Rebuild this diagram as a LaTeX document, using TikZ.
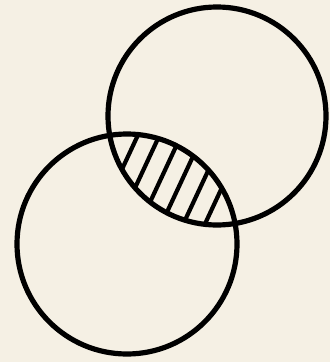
\documentclass[tikz,border=0pt]{standalone}
\usepackage{tikz}

\definecolor{paper}{RGB}{245,240,228}

\begin{document}
\begin{tikzpicture}[
    x=1pt, y=-1pt,
    ring/.style={draw=black, line width=5.2pt},
    hatch/.style={draw=black, line width=4.2pt}
]
\fill[paper] (0,0) rectangle (330,362);
\useasboundingbox (0,0) rectangle (330,362);
\coordinate (upper) at (217,116);
\coordinate (lower) at (127,244);
% hatched overlap
\begin{scope}
    \clip (upper) circle[radius=109pt];
    \clip (lower) circle[radius=110pt];
    \foreach \c in {201,222.7,244.4,266,287.8,309.5}
        \draw[hatch] (\c-46.7,100) -- (\c-112,240);
\end{scope}
\draw[ring] (upper) circle[radius=109pt];
\draw[ring] (lower) circle[radius=110pt];
\end{tikzpicture}
\end{document}
